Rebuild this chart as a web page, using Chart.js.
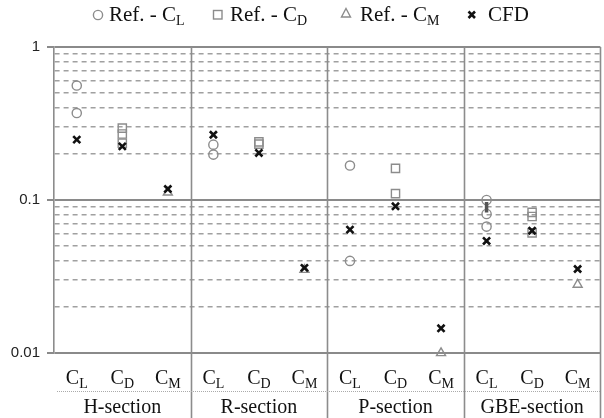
<!DOCTYPE html>
<html lang="en">

<head>
    <meta charset="UTF-8">
    <title>Force coefficients</title>
    <script src="https://cdn.jsdelivr.net/npm/chart.js@4.4.1/dist/chart.umd.min.js"></script>
    <style>
        body { margin: 0; overflow: hidden; background: #fff; }
        #wrap { position: relative; width: 608px; height: 418px; }
        #legend { position: absolute; top: 0; left: 0; width: 604px; height: 30px;
            font: 21px "Liberation Serif", serif; color: #111; }
        #legend span.item { position: absolute; top: 2px; white-space: nowrap; line-height: 24px; }
        #legend sub { font-size: 14px; vertical-align: -4px; line-height: 0; }
        #legend svg { position: absolute; }
    </style>
</head>

<body>
    <div id="wrap">
        <canvas id="myChart"></canvas>
        <div id="legend">
            <svg style="left:92px;top:9px" width="12" height="12"><circle cx="6" cy="6" r="4.6" fill="none" stroke="#8c8c8c" stroke-width="1.4"/></svg>
            <span class="item" style="left:109px">Ref. - C<sub>L</sub></span>
            <svg style="left:212px;top:9px" width="12" height="12"><rect x="1.5" y="1.5" width="8.5" height="8.5" fill="none" stroke="#8c8c8c" stroke-width="1.4"/></svg>
            <span class="item" style="left:230px">Ref. - C<sub>D</sub></span>
            <svg style="left:340px;top:7px" width="12" height="12"><polygon points="6,1.5 10.5,10 1.5,10" fill="none" stroke="#8c8c8c" stroke-width="1.4"/></svg>
            <span class="item" style="left:360px">Ref. - C<sub>M</sub></span>
            <svg style="left:466px;top:9px" width="12" height="12"><path d="M2.5,2.5 L9,9 M9,2.5 L2.5,9" stroke="#111" stroke-width="2.6"/></svg>
            <span class="item" style="left:488px">CFD</span>
        </div>
    </div>
</body>

<script>

    var sections = ['H-section', 'R-section', 'P-section', 'GBE-section'];
    var coefs = ['L', 'D', 'M'];

    // reference values, one list per section
    var refCL = [[0.56, 0.37], [0.23, 0.198], [0.168, 0.040], [0.100, 0.081, 0.067]];
    var refCD = [[0.295, 0.27, 0.235], [0.24, 0.232], [0.161, 0.110], [0.083, 0.078, 0.061]];
    var refCM = [[0.112], [0.035], [0.010], [0.028]];

    // dark range bar between the GBE C_L reference circles
    var gbeCLRange = [0.097, 0.083];

    // CFD values, one per section
    var cfdCL = [0.248, 0.267, 0.064, 0.054];
    var cfdCD = [0.224, 0.203, 0.091, 0.063];
    var cfdCM = [0.118, 0.036, 0.0145, 0.0354];

    var yTicks = [0.01, 0.02, 0.03, 0.04, 0.05, 0.06, 0.07, 0.08, 0.09,
        0.1, 0.2, 0.3, 0.4, 0.5, 0.6, 0.7, 0.8, 0.9, 1];
    var yMajor = [0.01, 0.1, 1];

    var labels = [];
    sections.forEach((s) => coefs.forEach((c) => labels.push(s + '|' + c)));

    function refPoints(list, c) {
        var pts = [];
        list.forEach((vals, i) => vals.forEach((v) => pts.push({ x: sections[i] + '|' + c, y: v })));
        return pts;
    }
    var cfdPoints = [];
    [cfdCL, cfdCD, cfdCM].forEach((vals, k) => {
        vals.forEach((v, i) => cfdPoints.push({ x: sections[i] + '|' + coefs[k], y: v }));
    });

    var grey = '#8c8c8c';
    var isMajor = (v) => yMajor.some((m) => Math.abs(m - v) < 1e-9);

    var labelPlugin = {
        id: 'labelPlugin',
        beforeDatasetsDraw(chart) {
            var c = chart.ctx, x = chart.scales.x, a = chart.chartArea;
            var half = (x.getPixelForValue(1) - x.getPixelForValue(0)) / 2;
            c.save();
            c.strokeStyle = grey;
            c.lineWidth = 1.6;
            for (var i = 3; i <= labels.length; i += 3) {
                var px = Math.round(x.getPixelForValue(i) - half) + 0.5;
                c.beginPath();
                c.moveTo(px, a.top);
                c.lineTo(px, 418);
                c.stroke();
            }
            c.restore();
        },
        afterDraw(chart) {
            var c = chart.ctx, x = chart.scales.x, a = chart.chartArea;
            c.save();
            c.fillStyle = '#111';
            c.textBaseline = 'alphabetic';
            labels.forEach((lab, i) => {
                var sub = lab.split('|')[1];
                var px = x.getPixelForValue(i);
                c.font = '20px "Liberation Serif"';
                var w1 = c.measureText('C').width;
                c.font = '14px "Liberation Serif"';
                var w2 = c.measureText(sub).width;
                var left = px - (w1 + w2) / 2;
                c.font = '20px "Liberation Serif"';
                c.fillText('C', left, 384);
                c.font = '14px "Liberation Serif"';
                c.fillText(sub, left + w1, 388);
            });
            // dotted separator under the coefficient row
            c.strokeStyle = '#aaa';
            c.lineWidth = 1;
            c.setLineDash([1, 1]);
            c.beginPath();
            c.moveTo(a.left + 3, 391.5);
            c.lineTo(a.right, 391.5);
            c.stroke();
            c.setLineDash([]);
            c.font = '20px "Liberation Serif"';
            c.textAlign = 'center';
            sections.forEach((s, i) => {
                var px = x.getPixelForValue(i * 3 + 1);
                c.fillText(s, px, 413);
            });
            c.restore();
        }
    };

    var ctx = document.getElementById('myChart').getContext('2d');
    var chart = new Chart(ctx, {
        type: 'scatter',
        data: {
            labels: labels,
            datasets: [{
                label: 'CFD',
                data: cfdPoints,
                pointStyle: 'crossRot',
                pointRadius: 5,
                borderWidth: 2.6,
                borderColor: '#111',
                order: 0,
                clip: false
            }, {
                label: 'Ref. - CL range',
                type: 'line',
                data: gbeCLRange.map((v) => ({ x: sections[3] + '|L', y: v })),
                showLine: true,
                borderColor: '#555',
                borderWidth: 3.5,
                pointRadius: 0,
                order: 1
            }, {
                label: 'Ref. - CL',
                data: refPoints(refCL, 'L'),
                pointStyle: 'circle',
                pointRadius: 4.6,
                borderWidth: 1.4,
                borderColor: grey,
                backgroundColor: 'rgba(0,0,0,0)',
                order: 2,
                clip: false
            }, {
                label: 'Ref. - CD',
                data: refPoints(refCD, 'D'),
                pointStyle: 'rect',
                pointRadius: 5.8,
                borderWidth: 1.4,
                borderColor: grey,
                backgroundColor: 'rgba(0,0,0,0)',
                order: 2,
                clip: false
            }, {
                label: 'Ref. - CM',
                data: refPoints(refCM, 'M'),
                pointStyle: 'triangle',
                pointRadius: 5.2,
                borderWidth: 1.4,
                borderColor: grey,
                backgroundColor: 'rgba(0,0,0,0)',
                order: 2,
                clip: false
            }]
        },
        options: {
            responsive: true,
            maintainAspectRatio: false,
            animation: false,
            layout: { padding: { top: 47, left: 0, right: 0, bottom: 0 } },
            plugins: { legend: { display: false }, tooltip: { enabled: false } },
            scales: {
                x: {
                    type: 'category',
                    offset: true,
                    grid: { display: false },
                    border: { display: false },
                    ticks: { display: false },
                    afterFit: (s) => { s.height = 65; }
                },
                y: {
                    type: 'logarithmic',
                    min: 0.01,
                    max: 1,
                    afterBuildTicks: (s) => {
                        s.ticks = yTicks.map((v) => ({ value: v, major: isMajor(v) }));
                    },
                    afterFit: (s) => { s.width = 54; },
                    border: {
                        display: true,
                        color: grey,
                        width: 1.6,
                        dash: (c) => (c.tick && !isMajor(c.tick.value)) ? [5, 4] : []
                    },
                    grid: {
                        color: (c) => (c.tick && isMajor(c.tick.value)) ? '#8a8a8a' : '#a0a0a0',
                        lineWidth: (c) => (c.tick && isMajor(c.tick.value)) ? 2 : 1.5,
                        tickColor: (c) => (c.tick && isMajor(c.tick.value)) ? '#8a8a8a' : 'rgba(0,0,0,0)',
                        tickLength: 7
                    },
                    ticks: {
                        autoSkip: false,
                        padding: 7,
                        color: '#222',
                        font: { family: 'Liberation Sans', size: 15 },
                        callback: (v) => isMajor(v) ? String(v) : ''
                    }
                }
            }
        },
        plugins: [labelPlugin]
    });

</script>

</html>
